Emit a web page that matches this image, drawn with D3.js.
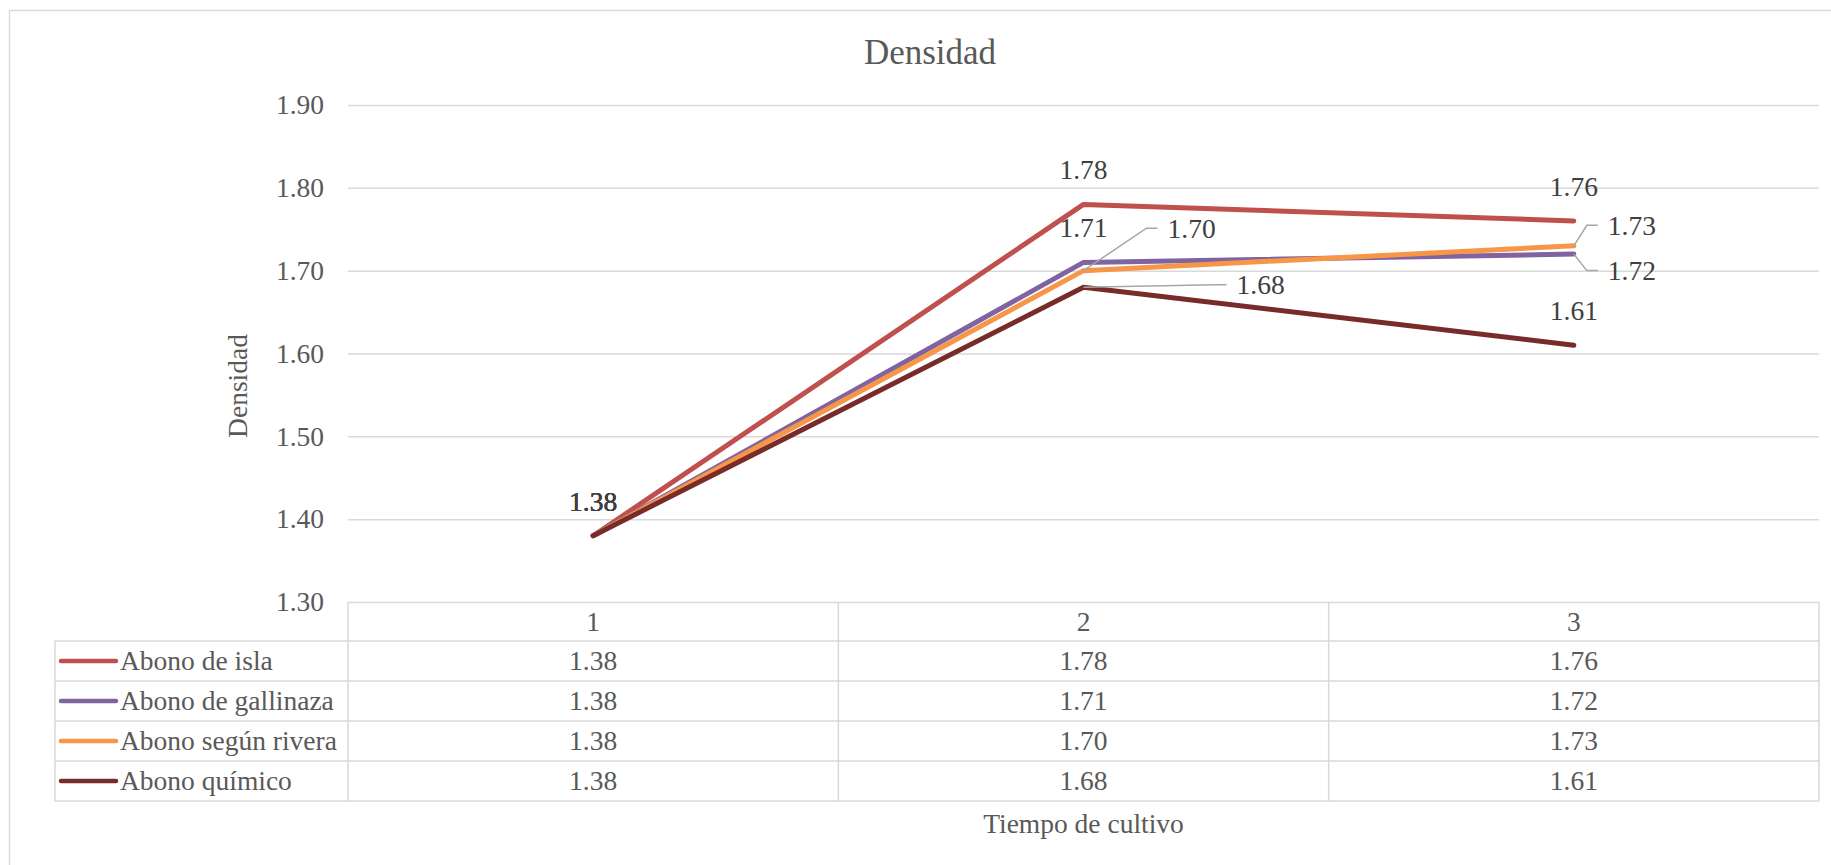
<!DOCTYPE html>
<html>
<head>
<meta charset="utf-8">
<script src="https://cdn.jsdelivr.net/npm/d3@7/dist/d3.min.js"></script>
<style>
  html, body { margin: 0; padding: 0; background: #fff; }
  svg text { font-family: "Liberation Serif", Tinos, "Times New Roman", "DejaVu Serif", serif !important; }
</style>
</head>
<body>
<svg id="chart" width="1831" height="865"></svg>
<script>
// Data
const categories = ["1", "2", "3"];
const seriesNames = ["Abono de isla", "Abono de gallinaza", "Abono según rivera", "Abono químico"];
const abonoIsla = [1.38, 1.78, 1.76];
const abonoGallinaza = [1.38, 1.71, 1.72];
const abonoRivera = [1.38, 1.70, 1.73];
const abonoQuimico = [1.38, 1.68, 1.61];
const yTicks = [1.30, 1.40, 1.50, 1.60, 1.70, 1.80, 1.90];
const chartTitle = "Densidad";
const yTitle = "Densidad";
const xTitle = "Tiempo de cultivo";

const seriesValues = [abonoIsla, abonoGallinaza, abonoRivera, abonoQuimico];
const colors = ["#C0504D", "#8064A2", "#F79646", "#772C2A"];

// Data labels moved off their default spot (above the point) get a leader line.
// Keyed "series-category": offset of the label's left/baseline from the point.
const movedLabels = {
  "2-1": [84, -33],
  "2-2": [34, -11],
  "1-2": [34, 26],
  "3-1": [153, 7]
};

const FONT = "'Liberation Serif', Tinos, 'Times New Roman', 'DejaVu Serif', serif";
const svg = d3.select("#chart").attr("font-family", FONT);
const W = 1831, H = 865;
const plot = { left: 348, right: 1819, top: 105, bottom: 602 };
const fs = 27.5;

// Outer chart frame
svg.append("rect")
  .attr("x", 9.5).attr("y", 10.5)
  .attr("width", W + 20).attr("height", H + 20)
  .attr("fill", "#fff").attr("stroke", "#d9d9d9").attr("stroke-width", 1.5);

const x = d3.scaleBand().domain(categories).range([plot.left, plot.right]).paddingInner(0).paddingOuter(0);
const y = d3.scaleLinear().domain([1.30, 1.90]).range([plot.bottom, plot.top]);
const cx = c => x(c) + x.bandwidth() / 2;

// Title
svg.append("text")
  .attr("x", 930).attr("y", 64)
  .attr("text-anchor", "middle")
  .attr("font-size", 35).attr("fill", "#595959")
  .text(chartTitle);

// Y axis with gridlines
const yAxis = d3.axisLeft(y)
  .tickValues(yTicks)
  .tickFormat(d3.format(".2f"))
  .tickSize(-(plot.right - plot.left))
  .tickPadding(24);

const gy = svg.append("g").attr("transform", `translate(${plot.left},0)`).call(yAxis)
  .attr("font-family", FONT).attr("font-size", fs);
gy.select(".domain").remove();
gy.selectAll(".tick line").attr("stroke", "#d9d9d9").attr("stroke-width", 1.5);
gy.selectAll(".tick text").attr("fill", "#595959");

// Y axis title
svg.append("text")
  .attr("transform", `translate(247,386) rotate(-90)`)
  .attr("text-anchor", "middle")
  .attr("font-size", fs).attr("fill", "#595959")
  .text(yTitle);

// Data table under the plot
const rowTop = 641, rowH = 40;
const tableLeft = 55;
const gridColor = "#d9d9d9";
const tbl = svg.append("g").attr("stroke", gridColor).attr("stroke-width", 1.5);

// Horizontal rules
for (let i = 0; i <= seriesNames.length; i++) {
  const yy = rowTop + i * rowH;
  tbl.append("line").attr("x1", tableLeft).attr("x2", plot.right).attr("y1", yy).attr("y2", yy);
}
// Vertical rules (category edges)
const edges = categories.map(c => x(c)).concat([plot.right]);
edges.forEach(e => {
  tbl.append("line").attr("x1", e).attr("x2", e).attr("y1", plot.bottom).attr("y2", rowTop + seriesNames.length * rowH);
});
tbl.append("line").attr("x1", tableLeft).attr("x2", tableLeft).attr("y1", rowTop).attr("y2", rowTop + seriesNames.length * rowH);

// Header: category labels
svg.append("g").selectAll("text").data(categories).join("text")
  .attr("x", d => cx(d)).attr("y", rowTop - 10)
  .attr("text-anchor", "middle").attr("font-size", fs).attr("fill", "#595959")
  .text(d => d);

// Rows: legend key + values
seriesNames.forEach((name, si) => {
  const base = rowTop + (si + 1) * rowH;
  const mid = base - rowH / 2;
  svg.append("line")
    .attr("x1", 61).attr("x2", 116).attr("y1", mid).attr("y2", mid)
    .attr("stroke", colors[si]).attr("stroke-width", 4.5).attr("stroke-linecap", "round");
  svg.append("text")
    .attr("x", 120).attr("y", base - 11)
    .attr("font-size", fs).attr("fill", "#595959")
    .text(name);
  svg.append("g").selectAll("text").data(seriesValues[si]).join("text")
    .attr("x", (d, i) => cx(categories[i])).attr("y", base - 11)
    .attr("text-anchor", "middle").attr("font-size", fs).attr("fill", "#595959")
    .text(d => d.toFixed(2));
});

// X axis title
svg.append("text")
  .attr("x", cx(categories[1])).attr("y", 833)
  .attr("text-anchor", "middle").attr("font-size", fs).attr("fill", "#595959")
  .text(xTitle);

// Series lines
const line = d3.line().x((d, i) => cx(categories[i])).y(d => y(d));
seriesValues.forEach((vals, si) => {
  svg.append("path")
    .datum(vals)
    .attr("d", line)
    .attr("fill", "none")
    .attr("stroke", colors[si])
    .attr("stroke-width", 5)
    .attr("stroke-linecap", "round")
    .attr("stroke-linejoin", "round");
});

// Data labels
const lbl = svg.append("g");
seriesValues.forEach((vals, si) => {
  vals.forEach((v, ci) => {
    const px = cx(categories[ci]), py = y(v);
    const moved = movedLabels[`${si}-${ci}`];
    if (moved) {
      const tx = px + moved[0], ty = py + moved[1];
      const ly = ty - 9.5;
      lbl.append("path")
        .attr("d", `M${px},${py}L${tx - 21},${ly}L${tx - 10},${ly}`)
        .attr("fill", "none").attr("stroke", "#a6a6a6").attr("stroke-width", 1.5);
      lbl.append("text")
        .attr("x", tx).attr("y", ty)
        .attr("font-size", fs).attr("fill", "#404040")
        .text(v.toFixed(2));
    } else {
      lbl.append("text")
        .attr("x", px).attr("y", py - 25)
        .attr("text-anchor", "middle")
        .attr("font-size", fs).attr("fill", "#404040")
        .text(v.toFixed(2));
    }
  });
});
</script>
</body>
</html>
